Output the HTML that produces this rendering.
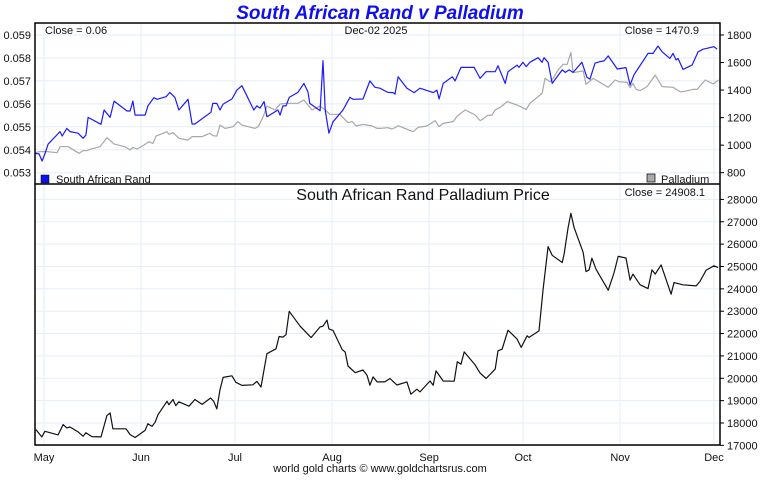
<!DOCTYPE html>
<html><head><meta charset="utf-8"><style>
html,body{margin:0;padding:0;background:#fff}
svg text{font-family:"Liberation Sans",sans-serif}
</style></head><body>
<svg id="c" width="760" height="475" viewBox="0 0 760 475" xmlns="http://www.w3.org/2000/svg"></svg>
<script>
const monthLabels=["May","Jun","Jul","Aug","Sep","Oct","Nov","Dec"];
const monthDays=[3,34,64,95,126,156,187,217];
const randTicks=[0.053,0.054,0.055,0.056,0.057,0.058,0.059];
const pdTicks=[800,1000,1200,1400,1600,1800];
const priceTicks=[17000,18000,19000,20000,21000,22000,23000,24000,25000,26000,27000,28000];
const randSeries=[[0.1,0.05384],[1.4,0.05382],[2.4,0.05351],[3.3,0.05382],[4.3,0.05424],[8.1,0.05479],[8.8,0.05460],[10.3,0.05493],[11.3,0.05479],[13.9,0.05472],[15.5,0.05450],[16.4,0.05464],[17.1,0.05541],[21.2,0.05511],[22.2,0.05573],[24.1,0.05541],[25.4,0.05612],[29.5,0.05569],[30.5,0.05569],[31.4,0.05612],[32.1,0.05551],[35.3,0.05551],[36.2,0.05591],[38.1,0.05627],[39.1,0.05620],[42.0,0.05631],[43.2,0.05650],[44.8,0.05628],[46.1,0.05573],[49.0,0.05620],[50.3,0.05512],[51.2,0.05512],[56.3,0.05563],[56.9,0.05602],[58.2,0.05602],[59.2,0.05573],[60.2,0.05599],[63.0,0.05621],[64.6,0.05660],[66.2,0.05679],[70.0,0.05573],[71.0,0.05591],[72.0,0.05581],[73.3,0.05610],[74.2,0.05544],[77.7,0.05573],[78.4,0.05551],[79.3,0.05591],[80.3,0.05591],[81.3,0.05628],[84.1,0.05650],[86.0,0.05689],[87.3,0.05653],[87.9,0.05602],[91.2,0.05570],[92.1,0.05788],[92.8,0.05573],[94.0,0.05472],[95.3,0.05522],[98.5,0.05573],[100.7,0.05628],[101.7,0.05620],[104.9,0.05621],[107.1,0.05700],[108.7,0.05672],[110.3,0.05668],[112.8,0.05650],[114.5,0.05649],[115.1,0.05642],[116.1,0.05718],[118.9,0.05668],[121.2,0.05649],[123.1,0.05668],[127.3,0.05649],[128.5,0.05660],[129.2,0.05621],[130.5,0.05689],[133.4,0.05718],[134.3,0.05700],[136.2,0.05759],[140.4,0.05759],[142.3,0.05711],[144.2,0.05740],[147.1,0.05740],[148.0,0.05766],[150.3,0.05689],[151.2,0.05740],[154.1,0.05769],[154.7,0.05759],[156.0,0.05781],[157.0,0.05762],[158.2,0.05781],[160.8,0.05801],[162.1,0.05781],[162.7,0.05801],[164.0,0.05781],[165.3,0.05689],[168.5,0.05748],[169.5,0.05737],[170.7,0.05748],[172.0,0.05737],[174.8,0.05781],[176.4,0.05716],[177.4,0.05708],[179.0,0.05777],[180.6,0.05784],[181.9,0.05787],[183.2,0.05809],[186.1,0.05752],[188.9,0.05758],[190.2,0.05682],[191.4,0.05726],[195.9,0.05820],[197.5,0.05820],[199.1,0.05852],[200.4,0.05827],[202.9,0.05798],[203.9,0.05820],[204.9,0.05791],[205.5,0.05798],[207.1,0.05750],[210.0,0.05769],[211.9,0.05827],[213.5,0.05838],[217.0,0.05849],[218.0,0.05838]];
const pdSeries=[[0.1,945],[1.7,953],[4.0,953],[7.2,945],[8.1,989],[10.7,989],[14.2,941],[15.5,960],[16.7,960],[17.7,970],[20.9,989],[23.1,1054],[25.4,1008],[28.9,989],[30.5,965],[31.4,984],[32.7,972],[34.6,996],[36.5,1025],[37.8,1013],[38.8,1066],[42.3,1098],[42.9,1079],[44.2,1091],[46.1,1050],[49.0,1037],[50.3,1062],[53.5,1062],[56.0,1086],[56.9,1069],[58.2,1066],[59.2,1146],[60.8,1122],[63.4,1134],[64.9,1171],[66.2,1146],[70.4,1122],[71.4,1134],[73.0,1207],[74.2,1284],[76.8,1255],[78.4,1299],[80.6,1304],[84.1,1304],[86.0,1328],[88.6,1255],[91.2,1284],[92.8,1255],[94.3,1224],[97.5,1224],[100.1,1163],[101.4,1171],[102.7,1139],[104.9,1151],[107.8,1139],[109.4,1122],[110.3,1122],[112.8,1127],[114.1,1117],[115.1,1127],[116.1,1141],[120.9,1098],[122.5,1129],[125.3,1139],[127.9,1178],[129.2,1134],[130.5,1158],[133.7,1171],[135.0,1212],[137.5,1255],[139.8,1231],[140.7,1219],[142.3,1178],[143.2,1190],[144.5,1214],[146.1,1219],[147.1,1255],[148.7,1275],[150.9,1316],[154.1,1292],[157.0,1260],[158.2,1304],[162.1,1376],[163.0,1485],[164.6,1461],[165.6,1485],[167.2,1546],[168.8,1587],[170.1,1587],[171.3,1672],[172.0,1526],[175.2,1539],[176.1,1442],[178.4,1485],[183.2,1420],[185.4,1473],[186.7,1461],[189.2,1456],[190.2,1417],[191.1,1449],[192.1,1405],[193.4,1396],[195.6,1425],[198.2,1509],[200.4,1425],[203.9,1420],[206.2,1388],[207.1,1388],[210.3,1405],[211.6,1405],[214.2,1473],[216.8,1444],[218.4,1473]];
const priceSeries=[[0.4,17706],[2.3,17380],[3.3,17630],[7.5,17470],[9.1,17930],[10.3,17780],[11.3,17820],[13.9,17600],[15.5,17410],[16.4,17560],[18.3,17390],[21.2,17380],[23.1,18330],[24.1,18450],[25.0,17740],[29.2,17740],[30.5,17480],[32.1,17350],[35.3,17670],[36.2,17970],[37.5,17850],[38.5,18030],[39.4,18370],[42.3,18970],[42.9,18820],[44.2,19050],[45.1,18780],[46.1,18950],[49.3,18750],[51.2,19050],[53.5,18830],[56.2,19120],[57.2,18970],[58.2,18630],[59.2,19490],[60.2,20040],[63.0,20110],[64.3,19820],[66.2,19680],[69.7,19710],[71.0,19860],[72.3,19610],[74.2,21100],[77.1,21320],[78.1,21870],[79.3,21840],[80.3,21950],[81.3,22990],[82.5,22770],[84.8,22330],[88.3,21820],[91.2,22300],[92.1,22330],[93.4,22600],[94.0,22210],[95.3,22140],[98.2,21290],[99.2,21170],[100.1,20550],[102.4,20250],[104.9,20370],[106.2,20130],[107.1,19690],[108.1,20060],[109.4,19840],[110.3,19840],[111.8,19840],[113.5,19990],[115.7,19700],[118.9,19840],[120.2,19290],[122.1,19510],[123.1,19390],[126.3,19880],[127.3,19690],[128.2,20330],[130.5,19880],[134.0,19870],[135.0,20740],[136.2,20630],[137.2,21180],[140.7,20600],[142.3,20230],[144.2,19990],[147.1,20410],[148.0,21230],[149.3,21300],[151.2,22150],[154.1,21750],[155.4,21380],[157.3,21900],[157.9,21830],[161.1,22120],[162.4,23980],[164.0,25890],[165.3,25500],[168.5,25180],[169.1,25550],[170.4,26740],[171.3,27380],[172.3,26740],[175.2,25620],[176.1,24770],[177.1,24850],[178.0,25370],[179.3,24880],[183.2,23940],[184.5,24480],[185.1,24730],[186.4,25450],[188.9,25380],[190.2,24390],[191.1,24660],[193.4,24180],[195.9,24010],[197.2,24850],[198.2,24660],[200.1,25070],[203.3,23760],[204.2,24280],[207.1,24180],[211.3,24130],[212.5,24330],[214.5,24840],[217.0,25030],[218.3,24950]];

const NS="http://www.w3.org/2000/svg";
const svg=document.getElementById('c');
const L=35,R=720,T1=23,B1=184,B2=445;
const xS=d=>34.6+d*3.131;
const yRand=v=>35+(0.059-v)*22950;
const yPd=v=>35+(1800-v)*0.1377;
const yPrice=v=>199.4+(28000-v)*0.02236;
function el(tag,attrs,parent){const e=document.createElementNS(NS,tag);for(const k in attrs)e.setAttribute(k,attrs[k]);(parent||svg).appendChild(e);return e;}
function txt(s,attrs){const e=el('text',attrs);e.textContent=s;return e;}

// grids
const grid=el('g',{});


monthDays.forEach(d=>{
  el('line',{x1:xS(d),x2:xS(d),y1:T1,y2:B2,stroke:'#e3eef8','stroke-width':1},grid);
});
randTicks.forEach(v=>{el('line',{x1:L,x2:R,y1:yRand(v),y2:yRand(v),stroke:'#e3eef8'},grid);});
priceTicks.forEach(v=>{el('line',{x1:L,x2:R,y1:yPrice(v),y2:yPrice(v),stroke:'#e3eef8'},grid);});

// lines
function path(series,yf,color,name){
  const d=series.map((p,i)=>(i?'L':'M')+xS(p[0]).toFixed(1)+','+yf(p[1]).toFixed(1)).join('');
  const e=el('path',{d:d,fill:'none',stroke:color,'stroke-width':1.2,'stroke-linejoin':'round'});
  
  
}
path(pdSeries,yPd,'#a8a8a8','palladium-line');
path(randSeries,yRand,'#1a1aff','rand-line');
path(priceSeries,yPrice,'#111','rand-palladium-price-line');

// frames
el('rect',{x:L,y:T1,width:R-L,height:B2-T1,fill:'none',stroke:'#000','stroke-width':1.5});
el('line',{x1:L,x2:R,y1:B1,y2:B1,stroke:'#000','stroke-width':1.5});

// ticks
randTicks.forEach(v=>{const t=txt(v.toFixed(3),{x:31,y:yRand(v)+4,'font-size':11,'text-anchor':'end',fill:'#111'});
  });
pdTicks.forEach(v=>{el('line',{x1:R,x2:R+4,y1:yPd(v),y2:yPd(v),stroke:'#000'});
  const t=txt(String(v),{x:727,y:yPd(v)+4,'font-size':11,fill:'#111'});
  });
priceTicks.forEach(v=>{el('line',{x1:R,x2:R+4,y1:yPrice(v),y2:yPrice(v),stroke:'#000'});
  const t=txt(String(v),{x:727,y:yPrice(v)+4,'font-size':11,fill:'#111'});
  });
monthLabels.forEach((m,i)=>{const t=txt(m,{x:xS(monthDays[i]),y:461,'font-size':11,'text-anchor':'middle',fill:'#111'});
  });
</script>
<script>
(function(){
const svg=document.getElementById('c');
svg.insertAdjacentHTML('beforeend',`
<text x="380" y="19" font-size="19" font-weight="bold" font-style="italic" fill="#1010ee" text-anchor="middle">South African Rand v Palladium</text>
<text x="45" y="34" font-size="11" fill="#111">Close = 0.06</text>
<text x="376" y="34" font-size="11" fill="#111" text-anchor="middle">Dec-02  2025</text>
<text x="699" y="34" font-size="11" fill="#111" text-anchor="end">Close = 1470.9</text>
<rect x="41" y="175" width="8" height="8" fill="#1010ee" stroke="#000" stroke-width="0.5"/>
<text x="56" y="183" font-size="11" fill="#111">South African Rand</text>
<rect x="647" y="174" width="8" height="8" fill="#aaa" stroke="#000" stroke-width="0.7"/>
<text x="661" y="183" font-size="11" fill="#111">Palladium</text>
<text x="423" y="200" font-size="16" fill="#111" text-anchor="middle">South African Rand Palladium Price</text>
<text x="705" y="196" font-size="11" fill="#111" text-anchor="end">Close = 24908.1</text>
<text x="380" y="472" font-size="11" fill="#111" text-anchor="middle">world gold charts © www.goldchartsrus.com</text>
`);
})();
</script>
</body></html>
